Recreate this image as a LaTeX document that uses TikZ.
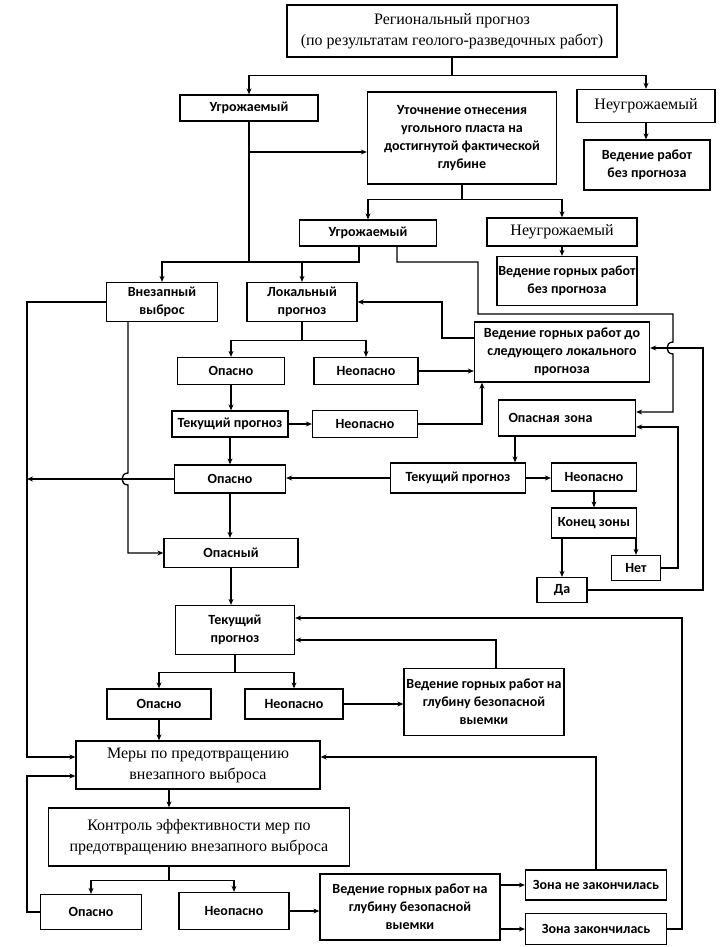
\documentclass[tikz,border=0pt]{standalone}
\usepackage{fontspec}
\setmainfont{Liberation Serif}
\newfontfamily\calfont{Carlito}
\usetikzlibrary{arrows.meta}

\begin{document}
\begin{tikzpicture}[x=1pt, y=-1pt, line width=1.3pt,
  >={Stealth[length=6pt,width=5pt]},
  every node/.style={font=\calfont\bfseries\fontsize{14}{18}\selectfont},
  bx/.style={draw, line width=1.3pt, align=center, inner sep=0pt},
  rbx/.style={bx, font=\fontsize{16}{21}\selectfont},
  arr/.style={->}]
  \useasboundingbox (0,0) rectangle (727,947);

  % Regional level
  \node[rbx, minimum width=330pt, minimum height=52pt] (reg) at (452,31) {Региональный прогноз\\(по результатам геолого-разведочных работ)};
  \node[bx, minimum width=138pt, minimum height=26pt] (u1) at (249,108) {Угрожаемый};
  \node[bx, minimum width=189pt, minimum height=92pt] (utoch) at (462,138) {Уточнение отнесения\\угольного пласта на\\достигнутой фактической\\глубине};
  \node[rbx, minimum width=138pt, minimum height=33pt] (nu1) at (646,106) {Неугрожаемый};
  \node[bx, minimum width=126pt, minimum height=50pt] (vrab) at (647,165) {Ведение работ\\без прогноза};

  % Actual depth
  \node[bx, minimum width=137pt, minimum height=26pt] (u2) at (368,233) {Угрожаемый};
  \node[rbx, minimum width=150pt, minimum height=28pt] (nu2) at (562,232) {Неугрожаемый};
  \node[bx, minimum width=140pt, minimum height=49pt] (vgr) at (567,281) {Ведение горных работ\\без прогноза};
  \node[bx, minimum width=111pt, minimum height=39pt] (vnez) at (162,302) {Внезапный\\выброс};
  \node[bx, minimum width=110pt, minimum height=39pt] (lok) at (302,302) {Локальный\\прогноз};
  \node[bx, minimum width=175pt, minimum height=60pt] (vdo) at (562,352) {Ведение горных работ до\\следующего локального\\прогноза};

  % Local forecast
  \node[bx, minimum width=107pt, minimum height=27pt] (op1) at (231,371) {Опасно};
  \node[bx, minimum width=104pt, minimum height=27pt] (nop1) at (366,371) {Неопасно};
  \node[bx, minimum width=116pt, minimum height=26pt] (tek1) at (230,424) {Текущий прогноз};
  \node[bx, minimum width=105pt, minimum height=27pt] (nop2) at (365,424) {Неопасно};
  \node[bx, minimum width=137pt, minimum height=36pt, text width=117pt, align=left] (ozone) at (567,418) {Опасная зона};
  \node[bx, minimum width=111pt, minimum height=28pt] (op2) at (230,479) {Опасно};
  \node[bx, minimum width=135pt, minimum height=30pt] (tek2) at (458,478) {Текущий прогноз};
  \node[bx, minimum width=85pt, minimum height=28pt] (nop3) at (594,477) {Неопасно};
  \node[bx, minimum width=85pt, minimum height=30pt] (konec) at (594,523) {Конец зоны};
  \node[bx, minimum width=49pt, minimum height=25pt] (net) at (636,568) {Нет};
  \node[bx, minimum width=50pt, minimum height=25pt] (da) at (562,590) {Да};
  \node[bx, minimum width=134pt, minimum height=29pt] (opasny) at (231,553) {Опасный};

  % Dangerous seam
  \node[bx, minimum width=119pt, minimum height=49pt] (tek3) at (235,630) {Текущий\\прогноз};
  \node[bx, minimum width=104pt, minimum height=30pt] (op3) at (159,704) {Опасно};
  \node[bx, minimum width=98pt, minimum height=30pt] (nop4) at (294,704) {Неопасно};
  \node[bx, minimum width=160pt, minimum height=67pt] (vgl1) at (484,702) {Ведение горных работ на\\глубину безопасной\\выемки};
  \node[rbx, minimum width=244pt, minimum height=48pt] (mery) at (198,765) {Меры по предотвращению\\внезапного выброса};
  \node[rbx, minimum width=301pt, minimum height=58pt] (kontr) at (199,837) {Контроль эффективности мер по\\предотвращению внезапного выброса};
  \node[bx, minimum width=101pt, minimum height=35pt] (op4) at (91,912) {Опасно};
  \node[bx, minimum width=110pt, minimum height=37pt] (nop5) at (234,911) {Неопасно};
  \node[bx, minimum width=180pt, minimum height=66pt] (vgl2) at (410,907) {Ведение горных работ на\\глубину безопасной\\выемки};
  \node[bx, minimum width=141pt, minimum height=30pt] (zne) at (596,885) {Зона не закончилась};
  \node[bx, minimum width=141pt, minimum height=31pt] (zz) at (596,929) {Зона закончилась};

  % straight arrows
  \foreach \a/\b in {nu1/vrab, nu2/vgr, op1/tek1, tek1/op2, op2/opasny, opasny/tek3, nop3/konec, op3/mery}
    \draw[arr] (\a.south) -- (\a.south |- \b.north);
  \foreach \a/\b in {nop1/vdo, tek1/nop2, tek2/nop3, nop4/vgl1, nop5/vgl2}
    \draw[arr] (\a.east) -- (\a.east -| \b.west);

  % branches
  \draw (reg.south) -- ++(0,18) coordinate (j1);
  \draw[arr] (j1) -| (u1.north);
  \draw[arr] (j1) -| (nu1.north);
  \draw[arr] (u1.south |- 0,152) -- (utoch.west |- 0,152);
  \draw (utoch.south) -- ++(0,15) coordinate (j2);
  \draw[arr] (j2) -| (u2.north);
  \draw[arr] (j2) -| (nu2.north);
  \coordinate (j3) at ([xshift=-9pt]u2.south |- 0,262);
  \draw[arr] ([xshift=-9pt]u2.south) -- (j3) -| (vnez.north);
  \draw[arr] (j3 -| lok.north) -- (lok.north);
  \draw (u1.south) -- (u1.south |- j3);
  \draw (lok.south) -- ++(0,18) coordinate (j4);
  \draw[arr] (j4) -| (op1.north);
  \draw[arr] (j4) -| (nop1.north);
  \draw (tek3.south) -- ++(0,17) coordinate (j5);
  \draw[arr] (j5) -| (op3.north);
  \draw[arr] (j5) -| (nop4.north);
  \draw ([xshift=-30pt]kontr.south) -- ++(0,14) coordinate (j6);
  \draw[arr] (j6) -| (op4.north);
  \draw[arr] (j6) -| (nop5.north);
  \draw[arr] ([xshift=-29pt]mery.south) -- ([xshift=-29pt]mery.south |- kontr.north);

  % loops on the right
  \draw[arr] ([xshift=29pt]u2.south) |- (478,262) -- (478,314) -- (673,314) -- (673,342)
    .. controls (665,342) and (665,354) .. (673,354) |- ([yshift=6pt]ozone.east);
  \draw[arr] (da.east) -| (703,348) -- (vdo.east |- 0,348);
  \draw[arr] (net.east) -| (678,427) -- ([yshift=-9pt]ozone.east);
  \draw[arr] ([yshift=14pt]vdo.west) -- ++(-32,0) |- (lok.east);
  \draw[arr] (nop2.east) -| ([xshift=-80pt]vdo.south);
  \draw[arr] ([xshift=-52pt]ozone.south) -- ([xshift=-52pt]ozone.south |- tek2.north);
  \draw[arr] (tek2.west) -- (tek2.west -| op2.east);
  \draw[arr] (da.north |- konec.south) -- (da.north);
  \draw[arr] (net.north |- konec.south) -- (net.north);

  % loops on the left
  \coordinate (lft) at (27,304);
  \draw[arr] (vnez.west) -| (27,757) -- (mery.west |- 0,757);
  \draw[arr] (op2.west) -- (op2.west -| lft);
  \draw[arr] ([xshift=-34pt]vnez.south) -- (128,473) .. controls (120,473) and (120,485) .. (128,485) |- (opasny.west);
  \draw[arr] (op4.west) -| (27,776) -- (mery.west |- 0,776);

  % back to forecast and measures
  \draw[arr] ([xshift=12pt]vgl1.north) |- ([yshift=-10pt]tek3.east);
  \draw[arr] (zz.east) -| (682,618) -- (tek3.east |- 0,618);
  \draw[arr] (zne.north) |- ([yshift=8pt]mery.east);
  \draw[arr] (vgl2.east |- zne) -- (zne.west);
  \draw[arr] (vgl2.east |- zz) -- (zz.west);
\end{tikzpicture}
\end{document}
